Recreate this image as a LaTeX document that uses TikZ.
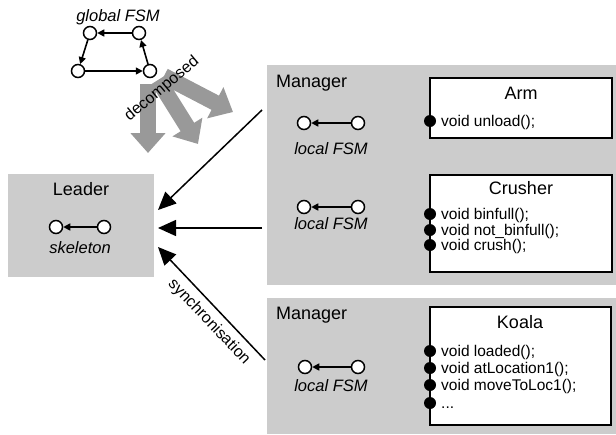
\documentclass[tikz,border=0pt]{standalone}
\usepackage{fontspec}
\setmainfont{Liberation Sans}
\usetikzlibrary{arrows.meta}

\definecolor{panel}{gray}{0.8}
\definecolor{fatarrow}{gray}{0.6}

\begin{document}
\begin{tikzpicture}[x=1pt,y=-1pt,
  state/.style={circle,draw,fill=white,line width=1.5pt,minimum size=13pt,inner sep=0pt},
  port/.style={circle,fill=black,minimum size=12pt,inner sep=0pt},
  trans/.style={line width=1.6pt,-{Triangle[length=7pt,width=7pt]}},
  sync/.style={line width=1.5pt,-{Triangle[length=18pt,width=16pt]}},
  fat/.style={line width=16pt,draw=fatarrow,-{Triangle[length=20pt,width=34pt]}},
  comp/.style={draw,line width=2pt,fill=white},
  big/.style={font=\fontsize{18}{20}\selectfont,inner sep=0pt},
  lbl/.style={font=\fontsize{16}{18}\selectfont,inner sep=0pt},
  ital/.style={font=\fontsize{16.5}{18}\selectfont\itshape,inner sep=0pt},
  method/.style={font=\fontsize{15.5}{17}\selectfont,inner sep=0pt,anchor=base west}
]
\useasboundingbox (0,0) rectangle (616,434);

% grey panels
\fill[panel] (8,174) rectangle (154,277);
\fill[panel] (267,65) rectangle (616,285);
\fill[panel] (267,298) rectangle (616,434);

% panel titles
\node[big,anchor=base] (leader) at (81,195) {Leader};
\node[big,anchor=base west] (mgrA) at (276,87) {Manager};
\node[big,anchor=base west] (mgrB) at (276,319) {Manager};

% global FSM
\node[ital,anchor=base] (gtitle) at (118,21) {global FSM};
\node[state] (gA) at (90,33) {};
\node[state] (gB) at (139,33) {};
\node[state] (gC) at (78,71) {};
\node[state] (gD) at (150,71) {};
\draw[trans] (gB) -- (gA);
\draw[trans] (gA) -- (gC);
\draw[trans] (gC) -- (gD);
\draw[trans] (gD) -- (gB);

% decomposition arrows
\coordinate (f1s) at (148,84);  \coordinate (f1e) at (148,153);
\coordinate (f2s) at (158,80);  \coordinate (f2e) at (198,144);
\coordinate (f3s) at (164,76);  \coordinate (f3e) at (233,112);
\draw[fat] (f1s) -- (f1e);
\draw[fat] (f2s) -- (f2e);
\draw[fat] (f3s) -- (f3e);
\node[lbl,rotate=40] (decomp) at (162,89) {decomposed};

% leader skeleton
\node[state] (sL) at (56,227) {};
\node[state] (sR) at (104,227) {};
\draw[trans] (sR) -- (sL);
\node[ital,anchor=base] (skel) at (80,253) {skeleton};

% local FSMs
\node[state] (aL) at (304,123) {};
\node[state] (aR) at (358,123) {};
\draw[trans] (aR) -- (aL);
\node[ital,anchor=base] (aT) at (331,154) {local FSM};

\node[state] (cL) at (304,207) {};
\node[state] (cR) at (358,207) {};
\draw[trans] (cR) -- (cL);
\node[ital,anchor=base] (cT) at (331,229) {local FSM};

\node[state] (kL) at (305,367) {};
\node[state] (kR) at (358,367) {};
\draw[trans] (kR) -- (kL);
\node[ital,anchor=base] (kT) at (331,391) {local FSM};

% components
\draw[comp] (430,78) rectangle (612,138);
\node[big,anchor=base] (arm) at (521,99) {Arm};
\node[method] (m1) at (441,126) {void unload();};
\node[port] (p1) at (430,121) {};

\draw[comp] (430,175) rectangle (612,272);
\node[big,anchor=base] (crusher) at (521,194) {Crusher};
\node[method] (m2) at (441,219) {void binfull();};
\node[method] (m3) at (441,235) {void not\_binfull();};
\node[method] (m4) at (441,250) {void crush();};
\node[port] (p2) at (430,214) {};
\node[port] (p3) at (430,230) {};
\node[port] (p4) at (430,245) {};

\draw[comp] (430,307) rectangle (611,425);
\node[big,anchor=base] (koala) at (520,328) {Koala};
\node[method] (m5) at (441,356) {void loaded();};
\node[method] (m6) at (441,373) {void atLocation1();};
\node[method] (m7) at (441,390) {void moveToLoc1();};
\node[method] (m8) at (441,408) {...};
\node[port] (p5) at (430,351) {};
\node[port] (p6) at (430,368) {};
\node[port] (p7) at (430,385) {};
\node[port] (p8) at (430,403) {};

% synchronisation links
\coordinate (s1a) at (262,110); \coordinate (s1b) at (158,210);
\coordinate (s2a) at (262,228); \coordinate (s2b) at (158,228);
\coordinate (s3a) at (265,360); \coordinate (s3b) at (158,247);
\draw[sync] (s1a) -- (s1b);
\draw[sync] (s2a) -- (s2b);
\draw[sync] (s3a) -- (s3b);
\node[lbl,rotate=-46.5] (synclbl) at (209,322) {synchronisation};
\end{tikzpicture}
\end{document}
